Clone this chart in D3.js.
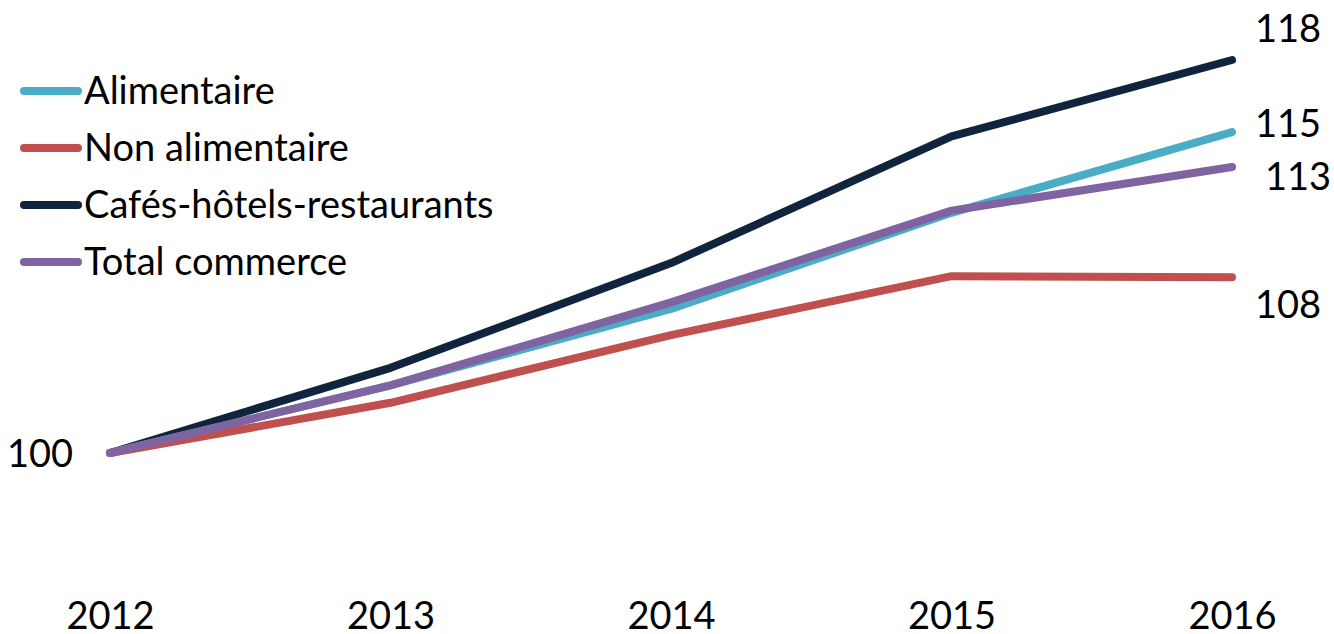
<!DOCTYPE html>
<html><head><meta charset="utf-8">
<script src="https://cdn.jsdelivr.net/npm/d3@7"></script>
<style>body{margin:0;background:#fff}svg{display:block}text{font-family:Lato,"Open Sans",sans-serif;fill:#000}</style>
</head><body><svg id="c" width="1334" height="634"></svg>
<script>
const years = ["2012","2013","2014","2015","2016"];
const alimentaire = [100, 103.1, 106.6, 111.0, 114.7];
const nonAlimentaire = [100, 102.3, 105.4, 108.1, 108.05];
const cafes = [100, 103.9, 108.7, 114.5, 118.0];
const total = [100, 103.1, 106.9, 111.1, 113.1];
const seriesNames = ["Alimentaire","Non alimentaire","Cafés-hôtels-restaurants","Total commerce"];
const endLabels = ["115","108","118","113"];
const startLabel = "100";

const colors = ["#4BACC6","#C0504D","#10243E","#8064A2"];
const seriesData = [alimentaire, nonAlimentaire, cafes, total];
const drawOrder = [2,0,1,3];
const fs = 38;

const svg = d3.select("#c");
const x = d3.scalePoint().domain(years).range([110,1232]);
const y = d3.scaleLinear().domain([100,118]).range([453,60]);

const line = d3.line().x((d,i)=>x(years[i])).y(d=>y(d));
drawOrder.forEach(k=>{
  svg.append("path").attr("d", line(seriesData[k])).attr("fill","none")
    .attr("stroke", colors[k]).attr("stroke-width",8)
    .attr("stroke-linecap","round").attr("stroke-linejoin","round");
});

// x axis labels
const xAxis = d3.axisBottom(x).tickSize(0).tickPadding(0);
const gx = svg.append("g").attr("transform","translate(0,600)").call(xAxis);
gx.select(".domain").remove();
gx.selectAll("text").attr("font-size",fs).attr("dy",0).attr("y",29)
  .style("font-family","Lato, sans-serif").attr("fill","#000");

// end labels
const endDx = [0,0,0,10];
const endDy = [5,41,-18,23];
seriesData.forEach((s,k)=>{
  svg.append("text").attr("x", x(years[4])+56+endDx[k]).attr("y", y(s[4])+endDy[k])
    .attr("text-anchor","middle").attr("font-size",fs).text(endLabels[k]);
});
svg.append("text").attr("x", x(years[0])-37).attr("y", y(alimentaire[0])+14)
  .attr("text-anchor","end").attr("font-size",fs).text(startLabel);

// legend
seriesNames.forEach((n,k)=>{
  const ly = 91 + k*57;
  svg.append("line").attr("x1",24).attr("x2",78).attr("y1",ly).attr("y2",ly)
    .attr("stroke",colors[k]).attr("stroke-width",8).attr("stroke-linecap","round");
  svg.append("text").attr("x",84).attr("y",ly+13).attr("font-size",fs).text(n);
});
</script></body></html>
